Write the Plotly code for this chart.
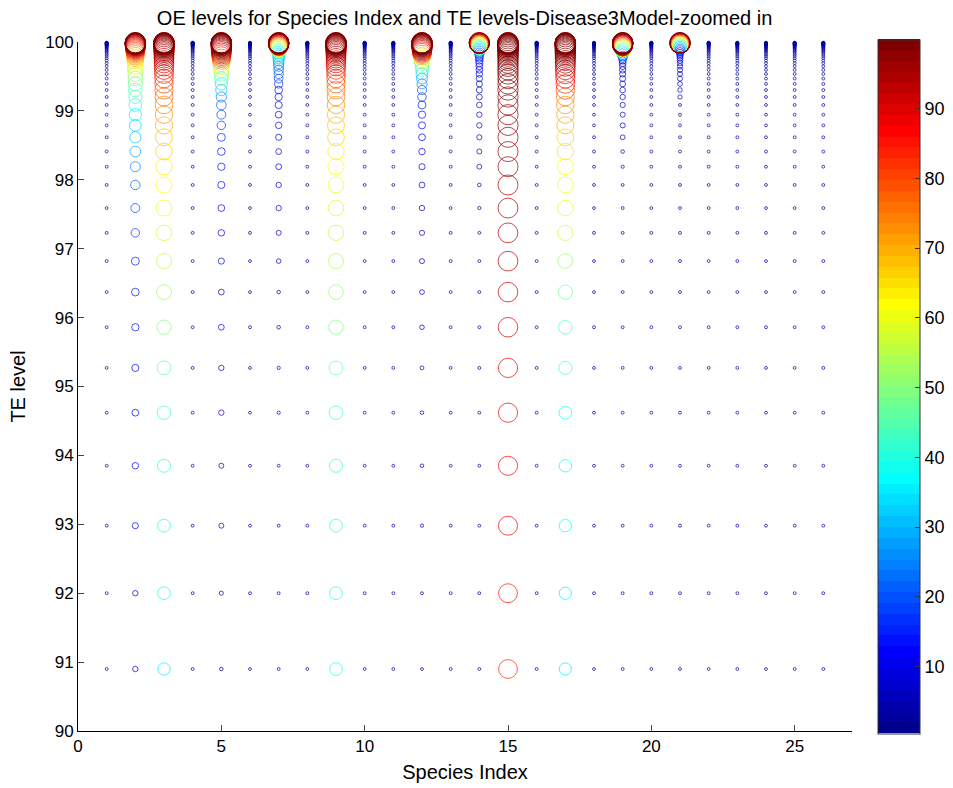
import numpy as np
import plotly.graph_objects as go

# ---------------- data ----------------
species = [1, 2, 3, 4, 5, 6, 7, 8, 9, 10, 11, 12, 13, 14, 15, 16, 17, 18, 19, 20, 21, 22, 23, 24, 25, 26]

te_levels = [90.90, 92.00, 92.98, 93.85, 94.62, 95.27, 95.86, 96.37, 96.82, 97.23, 97.59,
             97.925, 98.19, 98.41, 98.617, 98.79, 98.945, 99.086, 99.202, 99.303, 99.392, 99.469,
             99.536, 99.595, 99.647, 99.692, 99.731, 99.765, 99.795, 99.821, 99.844, 99.863, 99.881,
             99.896, 99.909, 99.921, 99.931, 99.940, 99.947, 99.954, 99.960, 99.965, 99.969, 99.973,
             99.976, 99.979, 99.982, 99.984, 99.986, 99.988, 99.9895]

oe_background = [2, 2, 2, 2, 2, 2, 2, 2, 2, 2, 2,
                 2, 2, 2, 2, 2, 2, 2, 2, 2, 2, 2,
                 2, 2, 2, 2, 2, 2, 2, 2, 2, 2, 2,
                 2, 2, 2, 2, 2, 2, 2, 2, 2, 2, 2,
                 2, 2, 2, 2, 2, 2, 2]

oe_s2 = [7, 7, 9, 10, 11, 12, 13, 14, 15, 17, 19,
         21, 24, 27, 30, 33, 36, 38, 41, 44, 47, 50,
         53, 56, 59, 62, 65, 68, 72, 75, 78, 81, 84,
         87, 89, 91, 93, 95, 96, 97, 98, 98.5, 99, 99.3,
         99.5, 99.6, 99.7, 99.7, 99.8, 99.8, 99.9]

oe_s3 = [36, 38, 40, 41, 43, 46, 49, 52, 55, 57, 60,
         62, 64, 66, 68, 70, 72, 74, 76, 78, 80, 82,
         84, 86, 88, 90, 91, 92, 93, 94, 95, 96, 96.5,
         97, 97.5, 98, 98.3, 98.6, 98.9, 99.1, 99.3, 99.5, 99.6, 99.7,
         99.7, 99.8, 99.8, 99.8, 99.9, 99.9, 99.9]

oe_s5 = [3, 4, 6, 6, 7, 7, 8, 8, 9, 10, 11,
         12, 13, 14, 15, 17, 19, 22, 25, 30, 36, 43,
         50, 56, 62, 67, 73, 79, 84, 88, 91, 93, 95,
         96, 97, 97.5, 98, 98.5, 99, 99.2, 99.4, 99.5, 99.6, 99.7,
         99.7, 99.8, 99.8, 99.8, 99.9, 99.9, 99.9]

oe_s7 = [2, 2, 2, 2, 2.5, 2.5, 3, 3, 5, 6, 7,
         7, 8, 8, 9, 10, 11, 12, 13, 14, 16, 18,
         20, 22, 24, 26, 28, 30, 33, 36, 40, 45, 51,
         57, 63, 69, 75, 81, 86, 90, 93, 95, 96.5, 97.5,
         98, 98.5, 99, 99.2, 99.4, 99.6, 99.8]

oe_s9 = [38, 39, 40, 41, 43, 46, 49, 51, 54, 56, 58,
         60, 62, 64, 66, 68, 70, 72, 74, 76, 78, 80,
         82, 84, 86, 88, 90, 91, 92, 93, 94, 95, 96,
         96.5, 97, 97.5, 98, 98.3, 98.6, 98.9, 99.1, 99.3, 99.5, 99.6,
         99.7, 99.7, 99.8, 99.8, 99.9, 99.9, 99.9]

oe_s12 = [2, 2, 2.5, 3, 3, 3.5, 5, 5.5, 6, 6.5, 7,
          8, 9, 10, 11, 12, 13, 15, 17, 20, 24, 28,
          33, 38, 44, 50, 56, 62, 69, 76, 84, 88, 91,
          93, 94.5, 96, 97, 97.5, 98, 98.5, 99, 99.2, 99.4, 99.5,
          99.6, 99.7, 99.7, 99.8, 99.8, 99.9, 99.9]

oe_s14 = [2, 2, 2, 2, 2, 2, 2, 2, 2, 2, 2.5,
          3, 5.5, 6, 6.5, 7, 7, 7.5, 8, 8.5, 9, 9.5,
          10, 10.5, 11, 12, 13, 14, 16, 18, 21, 26, 31,
          36, 41, 46, 52, 58, 64, 70, 76, 81, 85, 88,
          91, 93, 95, 96.5, 97.5, 98.5, 99.2]

oe_s15 = [84, 85, 86, 87, 88, 88, 91, 91, 93, 93, 94,
          95, 95.5, 96, 96.5, 97, 97.3, 97.6, 97.9, 98.1, 98.3, 98.5,
          98.7, 98.8, 98.9, 99, 99.1, 99.2, 99.3, 99.4, 99.5, 99.5, 99.6,
          99.6, 99.7, 99.7, 99.7, 99.8, 99.8, 99.8, 99.8, 99.9, 99.9, 99.9,
          99.9, 99.9, 99.9, 99.9, 99.9, 99.9, 99.9]

oe_s17 = [35, 36, 36.5, 37, 38, 41, 44, 48, 51, 55, 58,
          61, 62, 65, 67, 69, 71, 73, 76, 80, 84, 87,
          90, 92, 93.5, 95, 96, 96.5, 97, 97.5, 98, 98.3, 98.6,
          98.9, 99.1, 99.3, 99.4, 99.5, 99.6, 99.7, 99.7, 99.8, 99.8, 99.9,
          99.9, 99.9, 99.9, 99.9, 99.9, 99.9, 99.9]

oe_s19 = [2, 2, 2, 2, 2, 2, 2, 2, 2, 2, 2,
          2, 2.5, 3, 5.5, 6, 6, 6.5, 7, 7.5, 8, 8.5,
          9, 9.5, 10, 11, 12, 17, 22, 28, 35, 42, 50,
          58, 66, 74, 81, 87, 91, 94, 96, 97, 98, 98.5,
          99, 99.2, 99.4, 99.5, 99.6, 99.7, 99.8]

oe_s21 = [2, 2, 2, 2, 2, 2, 2, 2, 2, 2, 2,
          2, 2, 2, 2, 2, 2, 2, 4.5, 5, 5.5, 6,
          6, 6.5, 7, 7, 7.5, 8, 9, 10, 12, 15, 19,
          24, 30, 36, 43, 50, 57, 64, 71, 78, 84, 89,
          92, 94.5, 96.5, 97.5, 98.5, 99.2, 99.6]

oe_by_species = {2: oe_s2, 3: oe_s3, 5: oe_s5, 7: oe_s7, 9: oe_s9, 12: oe_s12,
                 14: oe_s14, 15: oe_s15, 17: oe_s17, 19: oe_s19, 21: oe_s21}

colorbar_ticks = [10, 20, 30, 40, 50, 60, 70, 80, 90]

# ---------------- build points ----------------
xs, ys, cs = [], [], []
for s in species:
    vals = oe_by_species.get(s, oe_background)
    assert len(vals) == len(te_levels), (s, len(vals))
    for te, v in zip(te_levels, vals):
        xs.append(s)
        ys.append(te)
        cs.append(v)
cs = np.array(cs, dtype=float)
sizes = 2.05 * np.sqrt(cs)


# MATLAB jet(64) colormap as a stepped colorscale
def jet(m=64):
    n = int(np.ceil(m / 4))
    u = np.concatenate([np.arange(1, n + 1) / n, np.ones(n - 1), np.arange(n, 0, -1) / n])
    g = int(np.ceil(n / 2)) - (1 if m % 4 == 1 else 0) + np.arange(1, len(u) + 1)
    r = g + n
    b = g - n
    g = g[g <= m]
    r = r[r <= m]
    b = b[b >= 1]
    J = np.zeros((m, 3))
    J[r - 1, 0] = u[:len(r)]
    J[g - 1, 1] = u[:len(g)]
    J[b - 1, 2] = u[len(u) - len(b):]
    return J


J = jet(64)
colorscale = []
for i, c in enumerate(J):
    col = "rgb(%d,%d,%d)" % tuple(np.round(c * 255).astype(int))
    colorscale.append([i / 64, col])
    colorscale.append([(i + 1) / 64, col])

FONT = "Liberation Sans, Arial, Helvetica, sans-serif"
CMIN, CMAX = 0.4, 99.9
CB_X, CB_LEN, CB_THICK = 1.0336, 1.007, 42
PLOT_W = 953 - 78 - 101

fig = go.Figure()
fig.add_trace(go.Scatter(
    x=xs, y=ys, mode="markers",
    cliponaxis=False,
    marker=dict(
        symbol="circle-open",
        size=sizes,
        color=cs,
        colorscale=colorscale,
        cmin=CMIN, cmax=CMAX,
        line=dict(width=1),
        showscale=True,
        colorbar=dict(
            x=CB_X, xanchor="left", xref="paper",
            y=0.5, yanchor="middle", yref="paper",
            len=CB_LEN, lenmode="fraction",
            thickness=CB_THICK, thicknessmode="pixels",
            xpad=0, ypad=0,
            outlinewidth=1, outlinecolor="#333333",
            tickmode="array", tickvals=colorbar_ticks,
            ticks="inside", ticklen=5, tickcolor="#333333",
            tickfont=dict(family=FONT, size=18, color="black"),
        ),
    ),
    showlegend=False,
    hoverinfo="skip",
))

# matching tick marks on the left edge of the colour bar (MATLAB style)
cb_bottom = 0.5 - CB_LEN / 2
for v in colorbar_ticks:
    yp = cb_bottom + (v - CMIN) / (CMAX - CMIN) * CB_LEN
    fig.add_shape(type="line", xref="paper", yref="paper",
                  x0=CB_X, x1=CB_X + 5 / PLOT_W, y0=yp, y1=yp,
                  line=dict(color="#333333", width=1))

fig.update_layout(
    width=953, height=788,
    margin=dict(l=78, r=101, t=42, b=57, autoexpand=False),
    paper_bgcolor="white", plot_bgcolor="white",
    font=dict(family=FONT, size=17, color="black"),
    title=dict(text="OE levels for Species Index and TE levels-Disease3Model-zoomed in",
               x=0.4875, xanchor="center", y=0.977, yanchor="middle",
               font=dict(family=FONT, size=20, color="black")),
    xaxis=dict(range=[0, 27], tick0=0, dtick=5, ticks="inside", ticklen=6,
               showline=True, linecolor="black", linewidth=1, mirror=False,
               showgrid=False, zeroline=False,
               title=dict(text="Species Index", standoff=9, font=dict(size=20)),
               tickfont=dict(size=17)),
    yaxis=dict(range=[90, 100], tick0=90, dtick=1, ticks="inside", ticklen=6,
               showline=True, linecolor="black", linewidth=1, mirror=False,
               showgrid=False, zeroline=False,
               title=dict(text="TE level", standoff=14, font=dict(size=20)),
               tickfont=dict(size=17)),
)

fig.write_html("out.html")
